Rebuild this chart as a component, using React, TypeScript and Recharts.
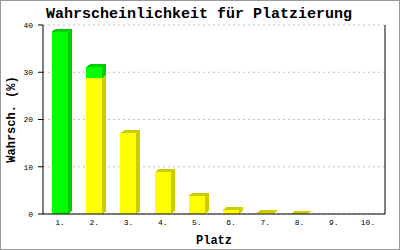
import { Bar, BarChart, CartesianGrid, XAxis, YAxis } from "recharts"

const platz = ["1.", "2.", "3.", "4.", "5.", "6.", "7.", "8.", "9.", "10."]
const gelb = [0, 28.8, 17.1, 8.8, 3.9, 0.9, 0.3, 0.1, 0, 0]
const gruen = [38.6, 2.3, 0, 0, 0, 0, 0, 0, 0, 0]
const yTicks = [0, 10, 20, 30, 40]

const data = platz.map((name, i) => ({ name, gelb: gelb[i], gruen: gruen[i] }))

const mono = "'Liberation Mono', 'DejaVu Sans Mono', monospace"

// front face plus a darker side and top, offset up and to the right
function Bar3D(props: any) {
  const { x, y, width, height, fill, side, payload, dataKey } = props
  if (!payload || !payload[dataKey]) return null
  const dx = 4
  const dy = 3
  const h = Math.max(height, 0)
  return (
    <g shapeRendering="crispEdges">
      <polygon
        points={`${x + width},${y + h} ${x + width + dx},${y + h - dy} ${x + width + dx},${y - dy} ${x + width},${y}`}
        fill={side}
      />
      <polygon
        points={`${x},${y} ${x + dx},${y - dy} ${x + width + dx},${y - dy} ${x + width},${y}`}
        fill={side}
      />
      <rect x={x} y={y} width={width} height={h} fill={fill} />
    </g>
  )
}

export default function App() {
  return (
    <div
      style={{
        position: "absolute",
        left: 0,
        top: 0,
        width: 400,
        height: 250,
        boxSizing: "border-box",
        border: "1px solid #999999",
        background: "#ffffff",
      }}
    >
      <div style={{ position: "absolute", left: -1, top: -1 }}>
        <BarChart width={400} height={250} data={data} margin={{ top: 25, right: 15, bottom: 0, left: 0 }} barSize={16}>
          <text x={199} y={18} textAnchor="middle" fontFamily={mono} fontWeight="bold" fontSize={15} fill="#000">
            Wahrscheinlichkeit für Platzierung
          </text>
          <CartesianGrid vertical={false} stroke="#c0c0c0" strokeDasharray="2 3" />
          {/* plot frame on the right */}
          <line x1={385} y1={25} x2={385} y2={214} stroke="#000" />
          <XAxis
            dataKey="name"
            height={36}
            tickLine={false}
            tickSize={0}
            tickMargin={5}
            axisLine={{ stroke: "#000" }}
            tick={{ fontFamily: mono, fontSize: 8, fill: "#000" }}
            interval={0}
            label={{ value: "Platz", position: "insideBottom", offset: 6, fontFamily: mono, fontWeight: "bold", fontSize: 12, fill: "#000" }}
          />
          <YAxis
            width={43}
            domain={[0, 40]}
            ticks={yTicks}
            tickSize={5}
            tickMargin={5}
            axisLine={{ stroke: "#000" }}
            tickLine={{ stroke: "#000" }}
            tick={{ fontFamily: mono, fontSize: 8, fill: "#000" }}
            label={{
              content: ({ viewBox }: any) => (
                <text
                  x={12}
                  y={viewBox.y + viewBox.height / 2}
                  transform={`rotate(-90 12 ${viewBox.y + viewBox.height / 2})`}
                  textAnchor="middle"
                  dominantBaseline="central"
                  fontFamily={mono}
                  fontWeight="bold"
                  fontSize={12}
                  fill="#000"
                >
                  Wahrsch. (%)
                </text>
              ),
            }}
          />
          <Bar dataKey="gelb" stackId="a" fill="#ffff00" isAnimationActive={false} shape={(p: any) => <Bar3D {...p} side="#cccc00" />} />
          <Bar dataKey="gruen" stackId="a" fill="#00ff00" isAnimationActive={false} shape={(p: any) => <Bar3D {...p} side="#00cc00" />} />
        </BarChart>
      </div>
    </div>
  )
}
